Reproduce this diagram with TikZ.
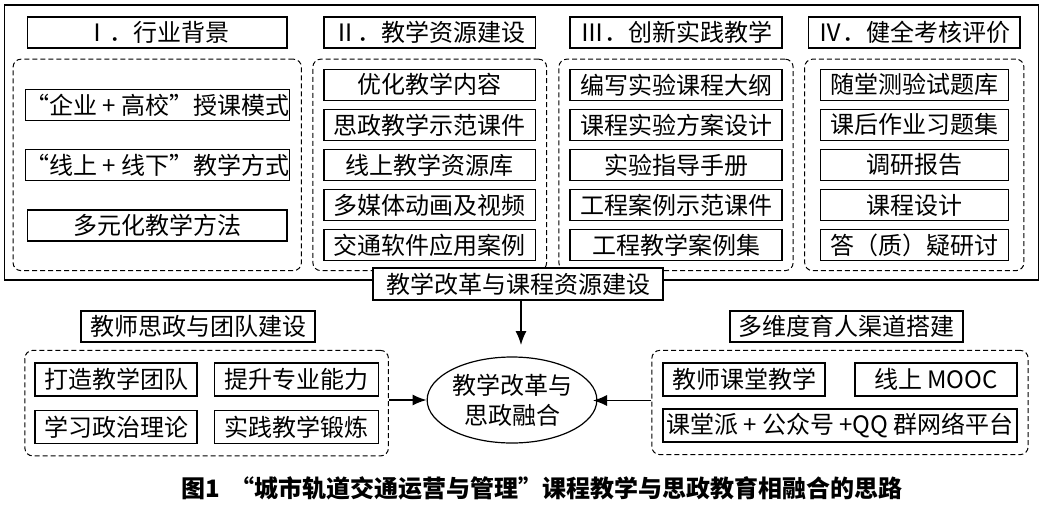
\documentclass[tikz,border=0pt]{standalone}
\usepackage{fontspec}
\setmainfont{Noto Sans CJK SC}
\usepackage{tikz}
\usetikzlibrary{arrows.meta,positioning,fit,shapes.geometric}

\begin{document}
\begin{tikzpicture}[x=1pt,y=-1pt,>={Latex[length=14pt,width=11pt]},line width=1.3pt,node distance=7.75pt]
	\tikzstyle{every node}=[font=\fontsize{24}{30}\selectfont,text=black]
	\tikzstyle{box}=[draw=black,line width=1.3pt,minimum height=31pt,inner sep=0pt]
	\tikzstyle{group}=[draw=black,line width=1pt,dash pattern=on 5pt off 3pt,rounded corners=8pt,inner xsep=10.5pt,inner ysep=9.5pt]
	\useasboundingbox (0,0) rectangle (1046,504);
	\draw[line width=1.3pt] (4.5,5) rectangle (1038.5,280);
	% four columns
	\node[box,minimum width=259.5pt] (h1) at (157.25,32.5) {Ⅰ．行业背景};
	\node[box,minimum width=211.5pt] (h2) at (429.75,32.5) {Ⅱ．教学资源建设};
	\node[box,minimum width=212pt]   (h3) at (676,32.5)    {Ⅲ．创新实践教学};
	\node[box,minimum width=211.4pt] (h4) at (914.3,32.5)  {Ⅳ．健全考核评价};
	\node[box,minimum width=259.5pt] (a1) [below=40pt of h1] {“企业 + 高校”授课模式};
	\node[box,minimum width=259.5pt] (a2) [below=28pt of a1] {“线上 + 线下”教学方式};
	\node[box,minimum width=259.5pt] (a3) [below=28pt of a2] {多元化教学方法};
	\node[box,minimum width=211.5pt] (b1) [below=20pt of h2] {优化教学内容};
	\node[box,minimum width=211.5pt] (b2) [below=of b1] {思政教学示范课件};
	\node[box,minimum width=211.5pt] (b3) [below=of b2] {线上教学资源库};
	\node[box,minimum width=211.5pt] (b4) [below=of b3] {多媒体动画及视频};
	\node[box,minimum width=211.5pt] (b5) [below=of b4] {交通软件应用案例};
	\node[box,minimum width=212pt]   (c1) [below=20pt of h3] {编写实验课程大纲};
	\node[box,minimum width=212pt]   (c2) [below=of c1] {课程实验方案设计};
	\node[box,minimum width=212pt]   (c3) [below=of c2] {实验指导手册};
	\node[box,minimum width=212pt]   (c4) [below=of c3] {工程案例示范课件};
	\node[box,minimum width=212pt]   (c5) [below=of c4] {工程教学案例集};
	\node[box,minimum width=188pt]   (d1) [below=20pt of h4] {随堂测验试题库};
	\node[box,minimum width=188pt]   (d2) [below=of d1] {课后作业习题集};
	\node[box,minimum width=188pt]   (d3) [below=of d2] {调研报告};
	\node[box,minimum width=188pt]   (d4) [below=of d3] {课程设计};
	\node[box,minimum width=188pt]   (d5) [below=of d4] {答（质）疑研讨};
	\node[group,inner xsep=11.5pt,fit=(a1)(a3)(a1|-b1.north)(a3|-b5.south)] (g1) {};
	\node[group,fit=(b1)(b5)] (g2) {};
	\node[group,fit=(c1)(c5)] (g3) {};
	\node[group,inner xsep=15pt,fit=(d1)(d5)] (g4) {};
	\node[box,fill=white,minimum width=290pt,minimum height=32pt] (reform) at (518,284) {教学改革与课程资源建设};
	% lower part
	\node[ellipse,draw=black,line width=1.2pt,minimum width=130pt,minimum height=86pt,inner sep=0pt,align=center] (core) at (512,400) {教学改革与\\思政融合};
	\node[box,minimum width=234pt] (t1) at (198,326.5) {教师思政与团队建设};
	\node[box,minimum width=233pt] (t2) at (846.5,326.5) {多维度育人渠道搭建};
	\node[box,minimum width=162pt,minimum height=33pt] (p1) at (116,379.5) {打造教学团队};
	\node[box,minimum width=164pt,minimum height=33pt] (p2) [right=16pt of p1] {提升专业能力};
	\node[box,minimum width=162pt,minimum height=33pt] (p3) [below=13pt of p1] {学习政治理论};
	\node[box,minimum width=164pt,minimum height=33pt] (p4) [below=13pt of p2] {实践教学锻炼};
	\node[box,minimum width=162pt,minimum height=33pt] (q1) at (744,379.5) {教师课堂教学};
	\node[box,minimum width=162pt,minimum height=33pt] (q2) at (936,379.5) {线上 MOOC};
	\node[box,minimum width=354pt,minimum height=33pt] (q3) at (840,425.5) {课堂派 + 公众号 +QQ 群网络平台};
	\node[group,inner xsep=9.5pt,inner ysep=12pt,fit=(p1)(p4)] (gl) {};
	\node[group,inner xsep=10.5pt,inner ysep=12pt,fit=(q3)(q1)(q2)] (gr) {};
	\coordinate (downtip) at (521,345);
	\coordinate (righttip) at (593,400.5);
	\draw[->] (reform.south -| downtip) -- (downtip);
	\draw[->] (gl.east |- core) -- (core.west);
	\draw[->] (gr.west |- righttip) -- (righttip);
	\node[font=\fontsize{24}{28}\selectfont\bfseries] (caption) at (542,488) {图1\hspace{10pt}“城市轨道交通运营与管理”课程教学与思政教育相融合的思路};
\end{tikzpicture}
\end{document}
